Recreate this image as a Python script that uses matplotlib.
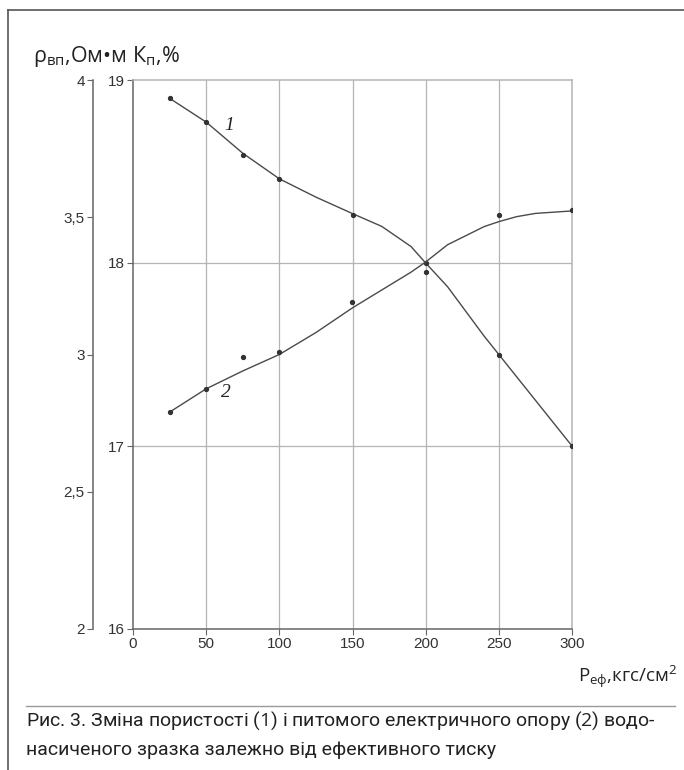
import matplotlib.pyplot as plt
from matplotlib.lines import Line2D

plt.rcParams["mathtext.fontset"] = "custom"
plt.rcParams["mathtext.rm"] = "Open Sans"
plt.rcParams["mathtext.it"] = "Open Sans:italic"

# pressure, kgf/cm2
P_POINTS = [25, 50, 75, 100, 150, 200, 250, 300]
# curve 1: porosity K_p, %  (measured points)
KP_POINTS = [18.90, 18.77, 18.59, 18.46, 18.26, 18.00, 17.50, 17.00]
# curve 2: resistivity rho, Ohm*m  (measured points)
RHO_POINTS = [2.79, 2.875, 2.99, 3.01, 3.19, 3.30, 3.51, 3.525]

# smoothed curves as drawn in the figure
P_CURVE = [25, 50, 75, 100, 125, 150, 170, 190, 200, 215, 240, 250, 262, 275, 300]
KP_CURVE = [18.90, 18.77, 18.60, 18.46, 18.36, 18.27, 18.20, 18.09, 18.00,
            17.87, 17.60, 17.50, 17.38, 17.25, 17.00]
RHO_CURVE = [2.79, 2.875, 2.94, 3.00, 3.08, 3.17, 3.235, 3.30, 3.337,
             3.40, 3.466, 3.484, 3.502, 3.514, 3.523]

X_TICKS = [0, 50, 100, 150, 200, 250, 300]
KP_TICKS = [16, 17, 18, 19]
RHO_TICKS = [2, 2.5, 3, 3.5, 4]
RHO_LABELS = ["2", "2,5", "3", "3,5", "4"]

W, H = 684, 770
LINE = "#4a4a4a"
GRID = "#b4b4b4"
TXT = "#333333"

fig = plt.figure(figsize=(W / 100, H / 100), dpi=100)
rect = [133 / W, 1 - 629 / H, (572 - 133) / W, (629 - 80) / H]
ax = fig.add_axes(rect)

ax.set_xlim(0, 300)
ax.set_ylim(16, 19)
ax.set_xticks(X_TICKS)
ax.set_yticks(KP_TICKS)
for x in X_TICKS[1:-1]:
    ax.axvline(x, color=GRID, lw=0.9, zorder=0)
for y in [17, 18]:
    ax.axhline(y, color=GRID, lw=0.9, zorder=0)

for s in ["top", "right"]:
    ax.spines[s].set_color(GRID)
    ax.spines[s].set_linewidth(1.1)
for s in ["left", "bottom"]:
    ax.spines[s].set_color("#666666")
    ax.spines[s].set_linewidth(1.1)
ax.tick_params(direction="out", length=4, width=0.8, color="#666666",
               labelcolor=TXT, labelsize=11, pad=2)
for lab in ax.get_xticklabels() + ax.get_yticklabels():
    lab.set_family("Liberation Sans")

ax.plot(P_CURVE, KP_CURVE, color=LINE, lw=1.0, zorder=3)
ax.plot(P_POINTS, KP_POINTS, "o", color="#333333", ms=2.8, zorder=4)

# second (outer) axis for resistivity
ax2 = ax.twinx()
ax2.set_ylim(2, 4)
ax2.yaxis.set_ticks_position("left")
ax2.spines["left"].set_position(("outward", 28.8))
ax2.spines["left"].set_color("#666666")
ax2.spines["left"].set_linewidth(1.1)
for s in ["top", "right", "bottom"]:
    ax2.spines[s].set_visible(False)
ax2.set_yticks(RHO_TICKS, RHO_LABELS)
ax2.tick_params(direction="out", length=4, width=0.8, color="#666666",
                labelcolor=TXT, labelsize=11, pad=2)
for lab in ax2.get_yticklabels():
    lab.set_family("Liberation Sans")

ax2.plot(P_CURVE, RHO_CURVE, color=LINE, lw=1.0, zorder=3)
ax2.plot(P_POINTS, RHO_POINTS, "o", color="#333333", ms=2.8, zorder=4)

# curve numbers
ax.text(66, 18.75, "1", family="Liberation Serif", style="italic",
        fontsize=14, color="#222222", ha="center", va="center")
ax2.text(63.5, 2.863, "2", family="Liberation Serif", style="italic",
         fontsize=14, color="#222222", ha="center", va="center")

# axis captions
fig.text(33 / W, 1 - 62 / H, r"ρ$_{\mathrm{вп}}$,Ом•м К$_{\mathrm{п}}$,%",
         family="Open Sans", fontsize=15.5, color="#222222", va="baseline")
fig.text(578 / W, 1 - 682 / H, r"P$_{\mathrm{еф}}$,кгс/см$^{\mathrm{2}}$",
         family="Open Sans", fontsize=13.5, color="#222222", va="baseline")

# frame and separator
fig.add_artist(Line2D([8 / W, 8 / W], [0, 1 - 10 / H], transform=fig.transFigure,
                      color="#555555", lw=1.2))
fig.add_artist(Line2D([8 / W, 1], [1 - 10 / H, 1 - 10 / H], transform=fig.transFigure,
                      color="#555555", lw=1.2))
fig.add_artist(Line2D([26 / W, 675 / W], [1 - 706 / H, 1 - 706 / H],
                      transform=fig.transFigure, color="#999999", lw=1.0))

# figure caption
fig.text(26 / W, 1 - 726 / H,
         r"Рис. 3. Зміна пористості ($\mathit{1}$) і питомого електричного опору ($\mathit{2}$) водо-",
         family="Roboto", fontsize=14, color="#222222", va="baseline")
fig.text(26 / W, 1 - 755 / H, "насиченого зразка залежно від ефективного тиску",
         family="Roboto", fontsize=14, color="#222222", va="baseline")

fig.savefig("out.png", dpi=100)
